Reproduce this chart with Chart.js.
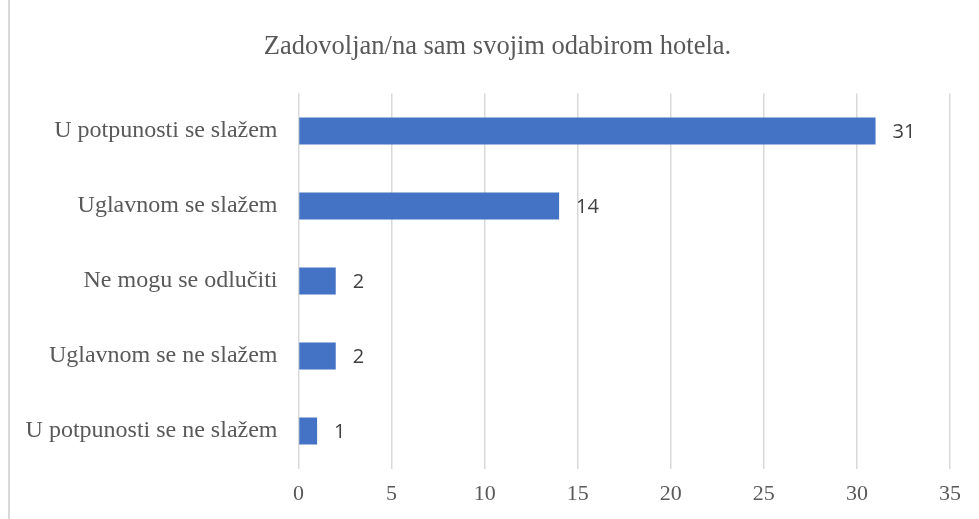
<!DOCTYPE html>
<html>
<head>
<meta charset="utf-8">
<script src="https://cdn.jsdelivr.net/npm/chart.js@4/dist/chart.umd.min.js"></script>
<style>
  html, body { margin: 0; padding: 0; background: #ffffff; }
  #wrap { width: 979px; height: 519px; }
</style>
</head>
<body>
<div id="wrap"><canvas id="grafico" width="979" height="519"></canvas></div>
<script>
  var titulo = 'Zadovoljan/na sam svojim odabirom hotela.'
  var kategorije = [
    'U potpunosti se slažem',
    'Uglavnom se slažem',
    'Ne mogu se odlučiti',
    'Uglavnom se ne slažem',
    'U potpunosti se ne slažem'
  ]
  var odgovori = [31, 14, 2, 2, 1]
  var osMax = 35
  var osKorak = 5

  var sivo = '#595959'
  var plava = '#4472C4'
  var mreza = '#D9D9D9'
  var serif = '"Liberation Serif", "Times New Roman", serif'

  // okvir lijevo + naslov (centriran na cijeli okvir grafikona)
  const okvir = {
    id: 'okvir',
    beforeDraw(chart) {
      const ctx = chart.ctx
      ctx.save()
      ctx.strokeStyle = mreza
      ctx.lineWidth = 2
      ctx.beginPath()
      ctx.moveTo(9, 0)
      ctx.lineTo(9, 519)
      ctx.stroke()

      ctx.font = '26.5px ' + serif
      ctx.fillStyle = sivo
      ctx.textAlign = 'center'
      ctx.textBaseline = 'middle'
      ctx.fillText(titulo, 497.5, 47)
      ctx.restore()
    }
  }

  // brojevi pored stupaca
  const oznake = {
    id: 'oznake',
    afterDatasetsDraw(chart) {
      const ctx = chart.ctx
      const meta = chart.getDatasetMeta(0)
      ctx.save()
      ctx.font = '20px "Open Sans"'
      ctx.fillStyle = '#404040'
      ctx.textAlign = 'left'
      ctx.textBaseline = 'middle'
      meta.data.forEach(function (bar, i) {
        ctx.fillText(String(odgovori[i]), bar.x + 17, bar.y + 1)
      })
      ctx.restore()
    }
  }

  const data = {
    labels: kategorije,
    datasets: [{
      data: odgovori,
      backgroundColor: plava,
      borderWidth: 0,
      categoryPercentage: 1,
      barPercentage: 0.36
    }]
  }

  const config = {
    type: 'bar',
    data: data,
    options: {
      indexAxis: 'y',
      responsive: false,
      animation: false,
      layout: {
        padding: { left: 0, right: 29, top: 93.5, bottom: 0 }
      },
      plugins: {
        legend: { display: false },
        tooltip: { enabled: false },
        title: { display: false }
      },
      scales: {
        x: {
          min: 0,
          max: osMax,
          border: { display: false },
          grid: { color: mreza, lineWidth: 1.5, drawTicks: false },
          afterFit: function (scale) { scale.height = 50.5 },
          ticks: {
            stepSize: osKorak,
            padding: 13,
            color: sivo,
            font: { family: serif, size: 22, lineHeight: 1.2 }
          }
        },
        y: {
          border: { display: false },
          grid: { display: false, drawTicks: false },
          afterFit: function (scale) { scale.width = 298.5 },
          ticks: {
            padding: 21,
            color: sivo,
            font: { family: serif, size: 24, lineHeight: 1.2 }
          }
        }
      }
    },
    plugins: [okvir, oznake]
  }

  const myChart = new Chart(document.getElementById('grafico'), config)
</script>
</body>
</html>
